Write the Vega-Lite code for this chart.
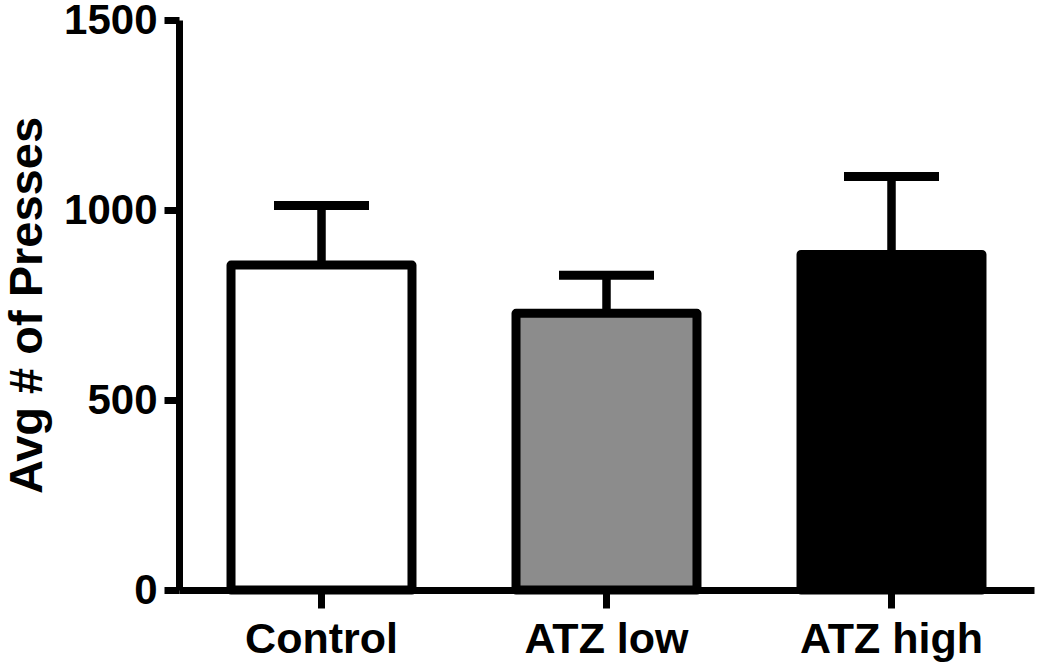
{
  "$schema": "https://vega.github.io/schema/vega-lite/v6.json",
  "autosize": {"type": "none"},
  "padding": {"left": 179, "top": 20, "right": 16, "bottom": 75},
  "width": 855,
  "height": 570,
  "background": "white",
  "config": {
    "view": {"stroke": null},
    "font": "Liberation Sans",
    "axis": {
      "domainColor": "black",
      "domainWidth": 7,
      "tickColor": "black",
      "tickWidth": 7,
      "labelColor": "black",
      "labelFont": "Liberation Sans",
      "labelFontWeight": "bold",
      "titleFont": "Liberation Sans",
      "titleFontWeight": "bold",
      "titleColor": "black",
      "grid": false
    }
  },
  "data": {
    "values": [
      {"group": "Control", "mean": 855, "upper": 1012},
      {"group": "ATZ low", "mean": 728, "upper": 828},
      {"group": "ATZ high", "mean": 883, "upper": 1088}
    ]
  },
  "encoding": {
    "x": {
      "field": "group",
      "type": "nominal",
      "sort": ["Control", "ATZ low", "ATZ high"],
      "scale": {"paddingInner": 0.365, "paddingOuter": 0.1825},
      "axis": {
        "title": null,
        "labelAngle": 0,
        "labelFontSize": 43,
        "labelLimit": 0,
        "tickSize": 18,
        "labelPadding": 10
      }
    }
  },
  "layer": [
    {
      "mark": {"type": "rule", "color": "black", "strokeWidth": 8.5},
      "encoding": {
        "y": {"field": "mean", "type": "quantitative"},
        "y2": {"field": "upper"}
      }
    },
    {
      "mark": {"type": "bar", "stroke": "black", "strokeWidth": 9, "strokeJoin": "round", "opacity": 1},
      "encoding": {
        "y": {
          "field": "mean",
          "type": "quantitative",
          "scale": {"domain": [0, 1500], "nice": false, "zero": true},
          "axis": {
            "title": "Avg # of Presses",
            "titleFontSize": 47,
            "titlePadding": 12,
            "values": [0, 500, 1000, 1500],
            "format": "d",
            "labelFontSize": 42,
            "tickSize": 15,
            "labelPadding": 7
          }
        },
        "fill": {
          "field": "group",
          "type": "nominal",
          "scale": {"domain": ["Control", "ATZ low", "ATZ high"], "range": ["#ffffff", "#8c8c8c", "#000000"]},
          "legend": null
        }
      }
    },
    {
      "mark": {"type": "tick", "color": "black", "size": 95, "thickness": 9, "opacity": 1, "orient": "horizontal"},
      "encoding": {
        "y": {"field": "upper", "type": "quantitative"}
      }
    }
  ]
}
